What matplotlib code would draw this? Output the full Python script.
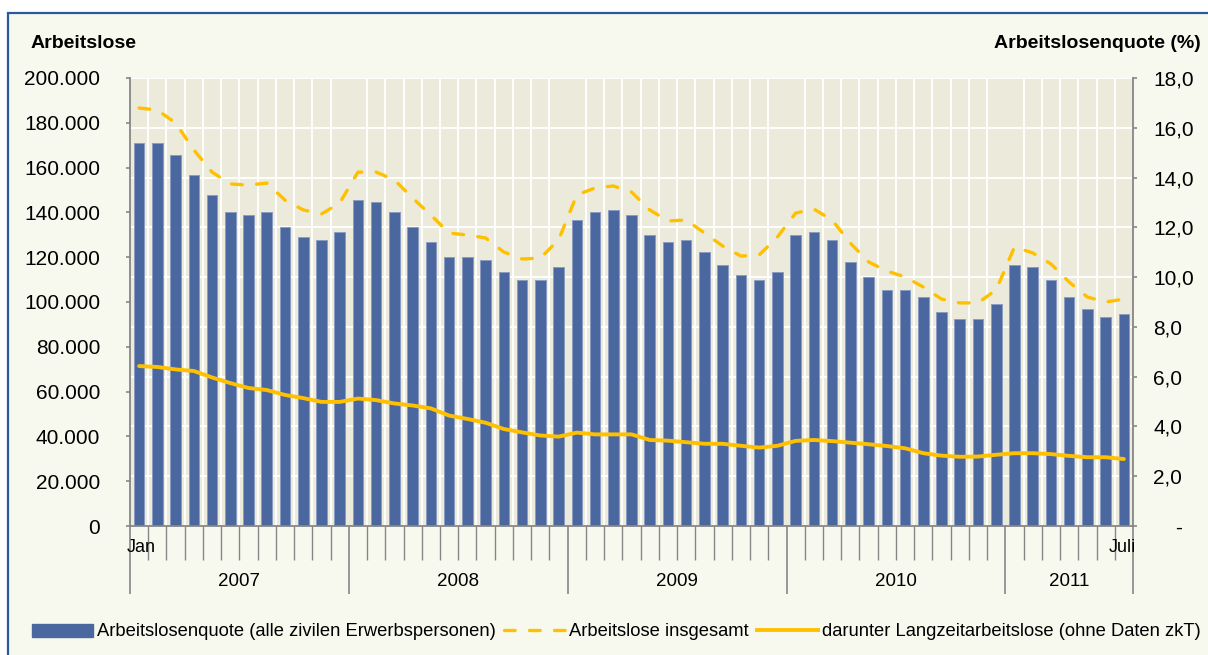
import numpy as np
import matplotlib.pyplot as plt
from matplotlib.patches import Rectangle, Patch
from matplotlib.lines import Line2D
from matplotlib.transforms import blended_transform_factory

plt.rcParams['font.family'] = ['Liberation Sans', 'DejaVu Sans']

years = ["2007", "2008", "2009", "2010", "2011"]
months_per_year = [12, 12, 12, 12, 7]

# Arbeitslosenquote (%), Jan 2007 - Jul 2011
quote = [15.4, 15.4, 14.9, 14.1, 13.3, 12.6, 12.5, 12.6, 12.0, 11.6, 11.5, 11.8,
         13.1, 13.0, 12.6, 12.0, 11.4, 10.8, 10.8, 10.7, 10.2, 9.9, 9.9, 10.4,
         12.3, 12.6, 12.7, 12.5, 11.7, 11.4, 11.5, 11.0, 10.5, 10.1, 9.9, 10.2,
         11.7, 11.8, 11.5, 10.6, 10.0, 9.5, 9.5, 9.2, 8.6, 8.3, 8.3, 8.9,
         10.5, 10.4, 9.9, 9.2, 8.7, 8.4, 8.5]

# Arbeitslose insgesamt
insgesamt = [186600, 185700, 179900, 167900, 158000, 152700, 152200, 153100, 145500, 141100, 139300, 144200,
             158000, 158000, 154500, 146400, 138800, 130800, 129900, 128600, 122300, 119200, 119600, 127700,
             147800, 150900, 151800, 149100, 141100, 136200, 136600, 130800, 125000, 120500, 121000, 129000,
             139700, 141500, 136600, 126300, 117900, 113800, 111200, 106700, 101300, 99600, 99600, 105400,
             124600, 121900, 117000, 108900, 102200, 100000, 101300]

# darunter Langzeitarbeitslose
langzeit = [71400, 71000, 69900, 69200, 66300, 63800, 61600, 60700, 58500, 57100, 55400, 55400,
            56900, 56200, 54700, 53800, 52500, 49300, 47800, 46100, 43300, 41800, 40400, 39900,
            41700, 40900, 40900, 40900, 38400, 38100, 37400, 36700, 36700, 35800, 35000, 35800,
            38000, 38400, 37900, 37200, 36500, 35700, 34700, 32500, 31400, 30900, 31000, 31800,
            32500, 32500, 32100, 31300, 30700, 30700, 29900]

left_ticks = [0, 20000, 40000, 60000, 80000, 100000, 120000, 140000, 160000, 180000, 200000]
left_labels = ["0", "20.000", "40.000", "60.000", "80.000", "100.000", "120.000",
               "140.000", "160.000", "180.000", "200.000"]
right_ticks = [0, 2, 4, 6, 8, 10, 12, 14, 16, 18]
right_labels = ["    -", "2,0", "4,0", "6,0", "8,0", "10,0", "12,0", "14,0", "16,0", "18,0"]

BAR = '#4a67a0'
GOLD = '#ffc000'
CREAM = '#f8f9ee'
PLOT_BG = '#ecebdb'
FRAME = '#2a5a9c'
AXIS = '#868686'

W, H = 1208, 655
fig = plt.figure(figsize=(W / 100, H / 100), dpi=100, facecolor='white')
fig.patches.append(Rectangle((8 / W, -0.02), 1.0, 1 - 13 / H + 0.02, transform=fig.transFigure,
                             facecolor=CREAM, edgecolor=FRAME, lw=1.6, zorder=-10))

ax = fig.add_axes([130 / W, 1 - 526 / H, (1133 - 130) / W, (526 - 78) / H])
ax2 = ax.twinx()
ax.set_facecolor(PLOT_BG)
ax.set_axisbelow(True)

# bars (quote, right axis)
x = np.arange(len(quote))
ax.bar(x, quote, width=0.58, color=BAR, edgecolor='#8a9cc2', linewidth=0.7, zorder=2)
ax.set_xlim(-0.5, len(quote) - 0.5)
ax.set_ylim(0, 18)
ax.yaxis.tick_right()
ax.yaxis.set_label_position('right')
ax.set_yticks(right_ticks, right_labels)
ax.grid(axis='y', color='white', lw=1.3)

bounds = np.concatenate([[0], np.cumsum(months_per_year)]) - 0.5
ax.set_xticks(bounds, [''] * len(bounds))
ax.set_xticks(np.arange(-0.5, len(quote), 1), minor=True)
ax.grid(axis='x', which='minor', color='white', lw=1.3)
ax.tick_params(axis='x', which='minor', length=24.5, color=AXIS, width=1)
ax.tick_params(axis='x', which='major', length=49, color=AXIS, width=1.2)
ax.tick_params(axis='y', length=3, color=AXIS, width=1.2, pad=11.5, labelsize=15)

# lines (counts, left axis)
ax2.plot(x, insgesamt, color=GOLD, lw=2.4, ls=(0, (3.2, 4.3)), dash_capstyle='round', zorder=3)
ax2.plot(x, langzeit, color=GOLD, lw=2.8, solid_capstyle='round', solid_joinstyle='round', zorder=3)
ax2.set_ylim(0, 200000)
ax2.yaxis.tick_left()
ax2.set_yticks(left_ticks, left_labels)
ax2.tick_params(axis='y', length=3, color=AXIS, width=1.2, pad=18.5, labelsize=15)

for sp in ['top', 'left']:
    ax.spines[sp].set_visible(False)
for sp in ['bottom', 'right']:
    ax.spines[sp].set_color(AXIS)
    ax.spines[sp].set_linewidth(1.3)
for sp in ['top', 'bottom', 'right']:
    ax2.spines[sp].set_visible(False)
ax2.spines['left'].set_visible(True)
ax2.spines['left'].set_color(AXIS)
ax2.spines['left'].set_linewidth(1.3)

trans = blended_transform_factory(ax.transData, fig.transFigure)
ax.text(0.1, 1 - 548 / H, "Jan", transform=trans, ha='center', va='center', fontsize=13)
ax.text(len(quote) - 1.1, 1 - 548 / H, "Juli", transform=trans, ha='center', va='center', fontsize=13)
for i, yr in enumerate(years):
    ax.text((bounds[i] + bounds[i + 1]) / 2, 1 - 582 / H, yr, transform=trans,
            ha='center', va='center', fontsize=13.5)

fig.text(31 / W, 1 - 44 / H, "Arbeitslose", ha='left', va='center', fontsize=14, weight='bold')
fig.text(1201 / W, 1 - 44 / H, "Arbeitslosenquote (%)", ha='right', va='center', fontsize=14, weight='bold')

handles = [Patch(facecolor=BAR, edgecolor=BAR),
           Line2D([], [], color=GOLD, lw=2.4, ls=(0, (3.2, 4.3)), dash_capstyle='round'),
           Line2D([], [], color=GOLD, lw=2.8)]
labels = ["Arbeitslosenquote (alle zivilen Erwerbspersonen)", "Arbeitslose insgesamt",
          "darunter Langzeitarbeitslose (ohne Daten zkT)"]
fig.legend(handles, labels, loc='center left', bbox_to_anchor=(32 / W, 1 - 632 / H), ncol=3,
           frameon=False, fontsize=13.2, handlelength=3.3, handletextpad=0.25, columnspacing=0.45,
           borderaxespad=0, borderpad=0)

fig.savefig('out.png', dpi=100, facecolor=fig.get_facecolor())
